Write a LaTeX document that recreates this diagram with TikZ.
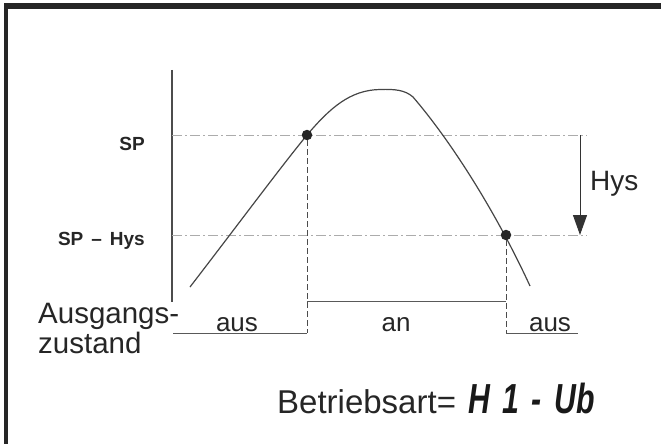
\documentclass[tikz,border=0pt]{standalone}
\usepackage{fontspec}
\setmainfont{Liberation Sans}
\usetikzlibrary{arrows.meta}
\begin{document}
\begin{tikzpicture}[x=1pt,y=-1pt,
  lbl/.style={inner sep=0pt, font=\fontsize{26}{30}\selectfont, text=black!85},
  big/.style={inner sep=0pt, font=\fontsize{29.5}{30}\selectfont, text=black!85},
  small/.style={inner sep=0pt, font=\fontsize{19}{20}\selectfont\bfseries, text=black!85},
  guide/.style={draw=gray!65, line width=0.8pt, dash pattern=on 10pt off 3pt on 2pt off 3pt},
  vguide/.style={draw=gray!60!black, line width=0.8pt, dash pattern=on 6pt off 3pt},
  sig/.style={draw=gray!70!black, line width=0.9pt},
  dotm/.style={circle, fill=black!85, inner sep=0pt, minimum size=10.5pt},
]
\useasboundingbox (0,0) rectangle (661,444);
% frame
\fill[black!85] (4,3) rectangle (661,9);
\fill[black!85] (4,3) rectangle (7.5,444);
% axis
\coordinate (axtop) at (172,70);
\coordinate (axbot) at (172,302);
\draw[black!70, line width=1.5pt] (axtop) -- (axbot);
% guide lines
\coordinate (spL) at (172,135);
\coordinate (spR) at (587,135);
\coordinate (hyL) at (172,235);
\coordinate (hyR) at (587,235);
\draw[guide] (spL) -- (spR);
\draw[guide] (hyL) -- (hyR);
% curve
\draw[gray!55!black, line width=1.2pt] (190,287) .. controls (240,222) and (280,168) .. (307,135)
  .. controls (330,108) and (350,90) .. (380,89.5)
  .. controls (395,89) and (405,90) .. (413,97)
  .. controls (450,140) and (495,210) .. (530,286);
% dots
\node[dotm] (d1) at (307,135) {};
\node[dotm] (d2) at (506,235) {};
% output signal
\coordinate (l0) at (173,333);
\coordinate (l1) at (307,333);
\coordinate (h1) at (307,301);
\coordinate (h2) at (506,301);
\coordinate (l2) at (506,333);
\coordinate (l3) at (578,333);
\draw[sig] (l0) -- (l1);
\draw[sig] (h1) -- (h2);
\draw[sig] (l2) -- (l3);
\draw[vguide] (d1) -- (l1);
\draw[vguide] (d2) -- (l2);
% Hys arrow
\coordinate (ar1) at (580,135);
\coordinate (ar2) at (580,235);
\draw[black!80, line width=1pt, -{Triangle[length=20pt,width=14pt]}] (ar1) -- (ar2);
\node[lbl, font=\fontsize{28}{30}\selectfont, anchor=base west] (hys) at (590,190) {Hys};
% y labels
\node[small, anchor=base east] (sp) at (145,150) {SP};
\node[small, anchor=base east] (sphys) at (145,245) {SP\hspace{8pt}–\hspace{8pt}Hys};
% output labels
\node[big, anchor=base west] (ausg) at (38,323) {Ausgangs-};
\node[big, anchor=base west] (zust) at (38,353) {zustand};
\node[lbl, anchor=base] (aus1) at (237,331) {aus};
\node[lbl, anchor=base] (an) at (396,331) {an};
\node[lbl, anchor=base] (aus2) at (550,331) {aus};
% mode
\node[inner sep=0pt, font=\fontsize{33}{34}\selectfont, text=black!85, anchor=base west] (ba) at (277,413) {Betriebsart=};
\node[inner sep=0pt, anchor=base west, font=\fontsize{42}{42}\selectfont\bfseries\itshape, text=black!90, xscale=0.72, transform shape] (code) at (468,413) {H\hspace{18pt}1\hspace{16pt}-\hspace{18pt}Ub};
\end{tikzpicture}
\end{document}
